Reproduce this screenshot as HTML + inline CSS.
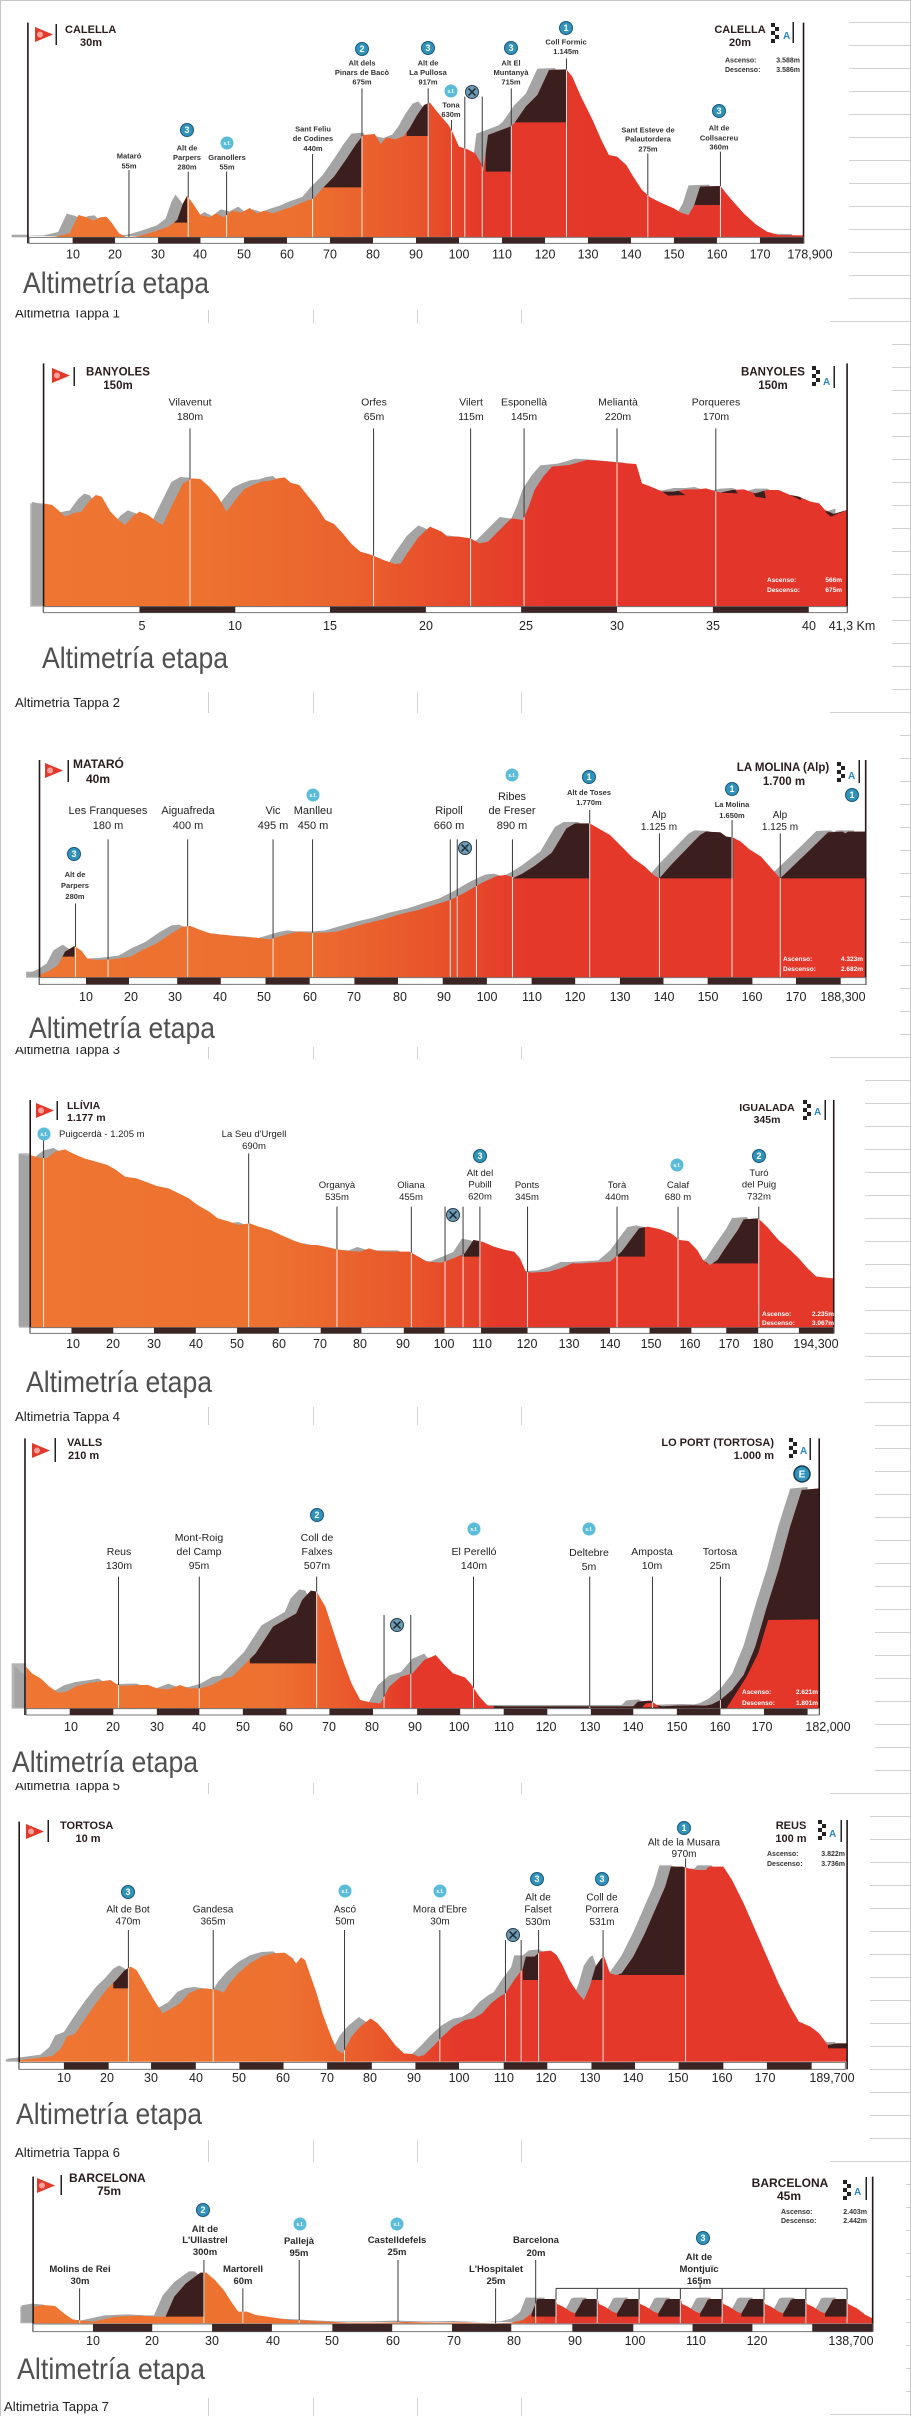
<!DOCTYPE html>
<html><head><meta charset="utf-8">
<style>
html,body{margin:0;padding:0;background:#fff}
svg{display:block}
text{font-family:"Liberation Sans",Arial,sans-serif}
.ln{stroke:#3a3a3a;stroke-width:1;fill:none;vector-effect:non-scaling-stroke}
.wl{stroke:#fff;stroke-width:1;fill:none;opacity:.85;vector-effect:non-scaling-stroke}
.ax{stroke:#241818;stroke-width:1.6;fill:none;vector-effect:non-scaling-stroke}
.bo{fill:#fff;stroke:#777;stroke-width:1;vector-effect:non-scaling-stroke}
.bd{fill:#3a2424}
.dk{fill:#3b1f1f}
.t{font-size:12.5px;fill:#222;text-anchor:middle}
.ae{font-size:30px;fill:#505050}
.cap{font-size:13px;fill:#222}
.w{font-size:6.5px;font-weight:bold;fill:#fff}
.h{font-weight:bold;fill:#2a1c1c}
.s{font-size:7.5px;font-weight:bold;fill:#333;text-anchor:middle}
</style></head><body>
<svg width="911" height="2416" viewBox="0 0 911 2416" xmlns="http://www.w3.org/2000/svg">
<defs>
<pattern id="hg" width="911" height="23" patternUnits="userSpaceOnUse"><path d="M0 22.5H911" stroke="#d2d2d2" stroke-width="1"/></pattern>
<linearGradient id="g1" gradientUnits="userSpaceOnUse" x1="0" y1="0" x2="1568" y2="0"><stop offset="0" stop-color="#ee7632"/><stop offset=".34" stop-color="#ec6f2f"/><stop offset=".46" stop-color="#e8552b"/><stop offset=".53" stop-color="#e4382a"/><stop offset="1" stop-color="#e4352a"/></linearGradient>
<linearGradient id="g2" gradientUnits="userSpaceOnUse" x1="0" y1="0" x2="1568" y2="0"><stop offset="0" stop-color="#ee7632"/><stop offset=".22" stop-color="#ed7230"/><stop offset=".38" stop-color="#ea632d"/><stop offset=".55" stop-color="#e5402a"/><stop offset=".6" stop-color="#e4352a"/></linearGradient>
<linearGradient id="g3" gradientUnits="userSpaceOnUse" x1="0" y1="0" x2="1568" y2="0"><stop offset="0" stop-color="#ee7632"/><stop offset=".33" stop-color="#ec6e2f"/><stop offset=".47" stop-color="#e8552b"/><stop offset=".58" stop-color="#e4382a"/></linearGradient>
<linearGradient id="g4" gradientUnits="userSpaceOnUse" x1="0" y1="0" x2="1568" y2="0"><stop offset="0" stop-color="#ee7632"/><stop offset=".3" stop-color="#ed7130"/><stop offset=".45" stop-color="#e8572b"/><stop offset=".55" stop-color="#e4382a"/></linearGradient>
<linearGradient id="g5" gradientUnits="userSpaceOnUse" x1="0" y1="0" x2="1568" y2="0"><stop offset="0" stop-color="#ee7632"/><stop offset=".3" stop-color="#ed7130"/><stop offset=".38" stop-color="#ea5a2c"/><stop offset=".45" stop-color="#e4382a"/></linearGradient>
<linearGradient id="g6" gradientUnits="userSpaceOnUse" x1="0" y1="0" x2="1568" y2="0"><stop offset="0" stop-color="#ee7632"/><stop offset=".32" stop-color="#ed7130"/><stop offset=".42" stop-color="#e9572b"/><stop offset=".5" stop-color="#e4382a"/></linearGradient>
<linearGradient id="g7" gradientUnits="userSpaceOnUse" x1="0" y1="0" x2="1568" y2="0"><stop offset="0" stop-color="#ee7632"/><stop offset=".55" stop-color="#ec6c2e"/><stop offset=".6" stop-color="#e4382a"/></linearGradient>

<polygon id="p1" points="50,712 95,710 120,700 135,645 150,652 160,662 172,652 183,650 192,668 205,700 218,712 240,708 265,695 290,680 305,660 315,610 322,588 332,610 345,645 360,652 372,640 385,652 400,632 415,638 430,624 442,640 455,632 470,640 485,630 500,622 520,607 540,595 555,565 575,530 595,480 612,435 625,405 645,402 655,432 665,412 680,418 695,408 705,385 718,345 730,315 740,308 750,330 762,355 772,375 780,400 790,440 805,448 818,460 828,490 832,512 840,405 860,392 878,380 885,370 905,320 925,285 945,210 975,208 985,230 1000,290 1020,360 1035,420 1048,465 1062,470 1078,495 1090,530 1105,570 1120,593 1140,610 1160,625 1172,638 1185,645 1195,615 1205,560 1240,558 1250,580 1262,605 1280,640 1300,672 1320,695 1340,705 1383,706 1383,712"/>
<polygon id="p2" points="75,830 75,520 90,525 100,540 112,560 125,550 140,545 155,510 165,495 175,500 190,545 205,572 215,585 228,560 240,545 255,555 270,575 280,585 295,530 315,460 330,445 345,447 360,470 375,500 390,545 405,510 420,478 435,465 450,455 465,452 478,445 490,442 500,458 515,465 530,498 545,530 560,570 575,582 590,610 605,642 620,665 640,675 660,690 680,702 690,700 700,672 720,622 740,590 760,605 770,620 790,620 810,625 825,640 840,635 860,600 880,565 900,570 910,530 920,480 935,440 950,410 980,405 1000,395 1010,390 1030,392 1050,395 1080,400 1095,402 1105,460 1120,470 1140,485 1160,485 1180,478 1200,478 1215,475 1240,488 1260,480 1280,478 1300,490 1320,480 1340,480 1360,495 1375,500 1395,515 1410,520 1420,540 1435,552 1458,540 1458,830"/>
<polygon id="p3" points="68,803 68,795 85,782 100,765 112,725 128,708 140,722 150,745 165,750 190,748 205,745 225,740 245,720 270,700 295,670 315,650 328,648 345,660 365,672 390,675 410,680 440,683 465,688 480,680 500,670 515,665 530,668 560,668 580,665 600,655 630,640 660,628 690,612 720,600 750,583 775,570 800,548 830,518 855,498 870,495 885,503 900,490 920,468 950,428 975,355 990,340 1015,340 1030,355 1050,375 1070,410 1090,445 1110,470 1125,495 1135,505 1155,465 1180,420 1205,375 1215,365 1240,367 1250,380 1262,383 1275,395 1290,418 1310,440 1325,470 1343,505 1370,460 1400,410 1425,367 1450,365 1455,370 1460,365 1490,365 1490,803"/>
<polygon id="p4" points="52,773 52,255 65,262 80,265 95,245 112,238 125,250 145,265 165,275 185,285 200,300 215,320 235,325 250,335 270,348 290,355 310,372 325,385 340,405 360,425 375,445 395,455 410,465 430,460 445,470 465,480 490,500 510,515 530,525 545,525 560,530 580,538 600,543 620,545 635,535 650,543 670,545 705,545 720,560 735,575 760,578 780,565 800,550 815,510 830,515 850,530 870,540 885,545 895,565 905,605 915,608 945,605 965,595 985,580 1000,580 1020,578 1050,575 1070,545 1085,510 1100,475 1115,470 1135,477 1155,490 1170,510 1185,513 1200,540 1210,570 1222,585 1235,570 1250,530 1270,480 1280,448 1305,445 1320,470 1340,510 1360,540 1375,565 1390,595 1405,620 1435,625 1435,773"/>
<polygon id="p5" points="45,866 45,740 55,760 70,775 85,800 100,818 115,815 130,800 150,790 170,785 190,780 205,797 220,797 240,795 255,795 270,805 290,808 310,795 325,805 345,805 365,795 385,775 400,770 420,735 440,700 455,660 470,620 490,600 510,580 520,540 535,512 545,515 560,560 575,640 590,720 605,790 620,840 640,848 655,850 670,800 690,770 710,760 730,720 750,705 765,735 780,760 800,772 810,790 825,830 840,858 870,859 1090,859 1098,845 1120,842 1130,855 1140,859 1165,857 1195,856 1215,857 1225,853 1240,840 1260,810 1280,765 1300,680 1320,560 1340,450 1360,320 1380,210 1410,205 1410,866"/>
<polygon id="p6" points="33,785 33,780 60,775 90,768 105,745 115,710 130,700 145,660 165,610 185,565 200,540 215,510 225,500 235,510 250,555 265,600 280,640 295,625 310,610 325,580 340,568 355,565 375,570 385,578 395,550 410,520 430,490 450,470 470,460 490,458 500,470 510,490 518,472 525,480 535,530 545,580 555,640 570,710 580,750 590,760 605,710 620,680 638,655 650,670 665,700 680,735 695,760 710,762 720,770 730,765 745,740 760,712 780,680 800,660 815,655 830,640 845,610 860,590 870,580 885,540 900,505 905,470 920,470 930,455 948,452 958,465 968,495 980,540 995,580 1005,600 1015,560 1025,500 1035,475 1040,470 1050,520 1060,525 1070,520 1090,470 1110,400 1130,320 1145,260 1155,200 1175,200 1185,205 1200,210 1215,210 1220,200 1245,200 1260,240 1280,310 1300,390 1320,470 1340,550 1360,620 1375,665 1395,680 1410,700 1425,735 1440,730 1458,730 1458,785"/>
<polygon id="p7" points="57,520 57,470 75,465 95,468 110,490 125,508 140,512 160,515 200,500 240,497 270,500 285,500 300,440 320,400 345,368 355,368 370,390 385,420 400,460 410,485 425,485 440,495 460,500 480,505 500,510 530,512 560,515 600,518 650,518 700,516 750,518 800,517 850,520 880,518 900,510 915,490 925,447 957,447 959,462 969,470 982,485 990,490 997,470 1003,450 1007,447 1029,447 1031,462 1041,470 1054,485 1062,490 1069,470 1075,450 1079,447 1100,447 1102,462 1112,470 1125,485 1133,490 1140,470 1146,450 1150,447 1172,447 1174,462 1184,470 1197,485 1205,490 1212,470 1218,450 1222,447 1243,447 1245,462 1255,470 1268,485 1276,490 1283,470 1289,450 1293,447 1315,447 1317,462 1327,470 1340,485 1348,490 1355,470 1361,450 1365,447 1387,447 1389,462 1399,470 1412,485 1420,490 1427,470 1433,450 1437,447 1458,447 1460,462 1475,475 1490,495 1502,505 1502,520"/>
<clipPath id="c1"><use href="#p1"/></clipPath>
<clipPath id="c2"><use href="#p2"/></clipPath>
<clipPath id="c3"><use href="#p3"/></clipPath>
<clipPath id="c4"><use href="#p4"/></clipPath>
<clipPath id="c5"><use href="#p5"/></clipPath>
<clipPath id="c6"><use href="#p6"/></clipPath>
<clipPath id="c7"><use href="#p7"/></clipPath>

<g id="sf"><circle r="6.5" fill="#5bbcd9"/><text y="1.8" font-size="5" font-weight="bold" fill="#fff" text-anchor="middle">s.f.</text></g>
<g id="tl"><circle r="6.5" fill="#6b9bb5" stroke="#2a3a44" stroke-width="1"/><path d="M-3.5 -3.5L3.5 3.5M3.5 -3.5L-3.5 3.5" stroke="#1d2a33" stroke-width="1.5"/></g>
<g id="k1"><circle r="6.5" fill="#2f93bc" stroke="#1b5676" stroke-width="1"/><text y="3.2" font-size="9" font-weight="bold" fill="#fff" text-anchor="middle">1</text></g>
<g id="k2"><circle r="6.5" fill="#2f93bc" stroke="#1b5676" stroke-width="1"/><text y="3.2" font-size="9" font-weight="bold" fill="#fff" text-anchor="middle">2</text></g>
<g id="k3"><circle r="6.5" fill="#2f93bc" stroke="#1b5676" stroke-width="1"/><text y="3.2" font-size="9" font-weight="bold" fill="#fff" text-anchor="middle">3</text></g>
<g id="kE"><circle r="8" fill="#2f93bc" stroke="#1b3a4e" stroke-width="1.5"/><text y="3.5" font-size="10" font-weight="bold" fill="#fff" text-anchor="middle">E</text></g>
<g id="fl"><polygon points="0,0 18,7.5 0,15" fill="#e2392b"/><circle cx="5" cy="7.5" r="3" fill="#f6a29a"/></g>
<g id="ck"><rect x="0" y="0" width="4" height="4" fill="#222"/><rect x="4" y="4" width="4" height="4" fill="#222"/><rect x="0" y="8" width="4" height="4" fill="#222"/><rect x="4" y="12" width="4" height="4" fill="#222"/><rect x="0" y="16" width="4" height="4" fill="#222"/></g>
</defs>

<rect x="0" y="0" width="911" height="2416" fill="#fff"/>
<rect x="830" y="0" width="81" height="2416" fill="url(#hg)"/>
<path d="M208.5 0V2416M313.5 0V2416M417.5 0V2416M521.5 0V2416" stroke="#d2d2d2" stroke-width="1"/>
<path d="M0.5 0V2416M0 0.5H911M910.5 0V2416" stroke="#c6c6c6" stroke-width="1"/>

<g class="cap">
<text x="15" y="317.5" class="cap" textLength="105" lengthAdjust="spacingAndGlyphs">Altimetria Tappa 1</text>
<text x="15" y="707" class="cap" textLength="105" lengthAdjust="spacingAndGlyphs">Altimetria Tappa 2</text>
<text x="15" y="1054" class="cap" textLength="105" lengthAdjust="spacingAndGlyphs">Altimetria Tappa 3</text>
<text x="15" y="1421" class="cap" textLength="105" lengthAdjust="spacingAndGlyphs">Altimetria Tappa 4</text>
<text x="15" y="1790" class="cap" textLength="105" lengthAdjust="spacingAndGlyphs">Altimetria Tappa 5</text>
<text x="15" y="2157" class="cap" textLength="105" lengthAdjust="spacingAndGlyphs">Altimetria Tappa 6</text>
<text x="4" y="2411" class="cap" textLength="105" lengthAdjust="spacingAndGlyphs">Altimetria Tappa 7</text>
</g>

<rect x="1" y="1" width="848" height="309" fill="#fff"/>
<rect x="1" y="323" width="891" height="369" fill="#fff"/>
<rect x="1" y="713" width="899" height="334" fill="#fff"/>
<rect x="1" y="1059" width="864" height="348" fill="#fff"/>
<rect x="1" y="1425" width="874" height="358" fill="#fff"/>
<rect x="1" y="1794" width="869" height="346" fill="#fff"/>
<rect x="1" y="2162" width="905" height="236" fill="#fff"/>

<!-- PANEL 1 -->
<g transform="translate(0,0) scale(0.581,0.33333)">
<rect x="20" y="704" width="30" height="8" fill="#aaa"/>
<use href="#p1" fill="#a4a4a4" transform="translate(-20,-4)"/>
<path class="ln" d="M222 510V712M324 515V712M390 515V712M538 462V712M623 265V712M737 265V712M777 360V712M800 290V712M830 290V712M880 265V712M975 175V712M1115 460V712M1240 455V712"/>
<use href="#p1" fill="url(#g1)"/>
<g clip-path="url(#c1)"><path class="dk" d="M300 0H322V668H300ZM555 0H622V562H555ZM700 0H738V408H700ZM836 0H880V515H836ZM880 0H976V367H880ZM1172 0H1240V615H1172Z"/><path class="wl" d="M222 510V712M324 515V712M390 515V712M538 462V712M623 265V712M737 265V712M777 360V712M800 290V712M830 290V712M880 265V712M975 175V712M1115 460V712M1240 455V712"/></g>
<path class="ax" d="M48 68V730M1383 68V730"/>
<rect class="bo" x="50" y="712" width="1333" height="18"/>
<path class="bd" d="M125 712H198V730H125ZM272 712H345V730H272ZM420 712H494V730H420ZM568 712H642V730H568ZM716 712H790V730H716ZM864 712H938V730H864ZM1012 712H1086V730H1012ZM1160 712H1234V730H1160ZM1308 712H1383V730H1308Z"/>
</g>
<use href="#fl" x="35" y="27"/><rect x="55.5" y="24" width="1.5" height="21" fill="#222"/>
<text x="65" y="33" font-size="11" class="h">CALELLA</text>
<text x="91" y="46" font-size="11" class="h" text-anchor="middle">30m</text>
<text x="740" y="33" font-size="11" class="h" text-anchor="middle">CALELLA</text>
<text x="740" y="46" font-size="11" class="h" text-anchor="middle">20m</text>
<use href="#ck" x="771" y="23"/><text x="783" y="39" font-size="10" font-weight="bold" fill="#2a86c8">A</text><rect x="792.5" y="22" width="1.5" height="21" fill="#222"/>
<text x="725" y="62.5" font-size="7" font-weight="bold" fill="#333">Ascenso:</text><text x="800" y="62.5" font-size="7" font-weight="bold" fill="#333" text-anchor="end">3.588m</text>
<text x="725" y="72" font-size="7" font-weight="bold" fill="#333">Descenso:</text><text x="800" y="72" font-size="7" font-weight="bold" fill="#333" text-anchor="end">3.586m</text>
<g>
<text class="s" x="129" y="158.5">Mataró</text><text class="s" x="129" y="168.5">55m</text>
<text class="s" x="187" y="150.5">Alt de</text><text class="s" x="187" y="160">Parpers</text><text class="s" x="187" y="169.5">280m</text>
<text class="s" x="227" y="160">Granollers</text><text class="s" x="227" y="169.5">55m</text>
<text class="s" x="313" y="131.5">Sant Feliu</text><text class="s" x="313" y="141">de Codines</text><text class="s" x="313" y="151">440m</text>
<text class="s" x="362" y="65.5">Alt dels</text><text class="s" x="362" y="75">Pinars de Bacò</text><text class="s" x="362" y="84.5">675m</text>
<text class="s" x="428" y="65.5">Alt de</text><text class="s" x="428" y="75">La Pullosa</text><text class="s" x="428" y="84.5">917m</text>
<text class="s" x="451" y="107.5">Tona</text><text class="s" x="451" y="117">630m</text>
<text class="s" x="511" y="65.5">Alt El</text><text class="s" x="511" y="75">Muntanyà</text><text class="s" x="511" y="84.5">715m</text>
<text class="s" x="566" y="44.5">Coll Formic</text><text class="s" x="566" y="54">1.145m</text>
<text class="s" x="648" y="132.5">Sant Esteve de</text><text class="s" x="648" y="141.5">Palautordera</text><text class="s" x="648" y="151.5">275m</text>
<text class="s" x="719" y="130.5">Alt de</text><text class="s" x="719" y="140.5">Collsacreu</text><text class="s" x="719" y="149.5">360m</text>
</g>
<use href="#k3" x="187" y="130"/><use href="#sf" x="227" y="143"/><use href="#k2" x="362" y="49"/><use href="#k3" x="428" y="48"/><use href="#sf" x="451" y="91"/><use href="#tl" x="472" y="92"/><use href="#k3" x="511" y="48"/><use href="#k1" x="566" y="28"/><use href="#k3" x="719" y="111"/>
<g>
<text class="t" x="73" y="258.5">10</text><text class="t" x="115" y="258.5">20</text><text class="t" x="158" y="258.5">30</text><text class="t" x="200" y="258.5">40</text><text class="t" x="244" y="258.5">50</text><text class="t" x="287" y="258.5">60</text><text class="t" x="330" y="258.5">70</text><text class="t" x="373" y="258.5">80</text><text class="t" x="416" y="258.5">90</text><text class="t" x="459" y="258.5">100</text><text class="t" x="502" y="258.5">110</text><text class="t" x="545" y="258.5">120</text><text class="t" x="588" y="258.5">130</text><text class="t" x="631" y="258.5">140</text><text class="t" x="674" y="258.5">150</text><text class="t" x="717" y="258.5">160</text><text class="t" x="760" y="258.5">170</text><text class="t" x="810" y="258.5">178,900</text>
</g>
<text class="ae" x="23" y="293" textLength="186" lengthAdjust="spacingAndGlyphs">Altimetría etapa</text>

<!-- PANEL 2 -->
<g transform="translate(0,330) scale(0.581,0.33333)">
<rect x="52" y="520" width="23" height="310" fill="#b4b4b4"/>
<use href="#p2" fill="#a4a4a4" transform="translate(-20,-4)"/>
<path class="ln" d="M327 295V830M643 295V830M810 295V830M902 295V830M1062 295V830M1232 295V830"/>
<use href="#p2" fill="url(#g2)"/>
<g clip-path="url(#c2)"><path class="dk" d="M1140 485L1165 480L1180 495L1150 497ZM1240 488L1262 472L1270 490ZM1295 482L1315 478L1318 505L1300 500ZM1360 495L1380 497L1378 510ZM1420 545L1440 538L1458 540L1430 560Z"/><path class="wl" d="M327 295V830M643 295V830M810 295V830M902 295V830M1062 295V830M1232 295V830"/></g>
<path class="ax" d="M75 100V848M1458 100V848"/>
<rect class="bo" x="75" y="830" width="1383" height="18"/>
<path class="bd" d="M240 830H405V848H240ZM568 830H733V848H568ZM897 830H1062V848H897ZM1227 830H1392V848H1227Z"/>
</g>
<use href="#fl" x="52" y="368"/><rect x="73.5" y="367" width="1.5" height="19" fill="#222"/>
<text x="86" y="375.5" font-size="11.5" class="h">BANYOLES</text>
<text x="118" y="389" font-size="11.5" class="h" text-anchor="middle">150m</text>
<text x="773" y="375.5" font-size="11.5" class="h" text-anchor="middle">BANYOLES</text>
<text x="773" y="389" font-size="11.5" class="h" text-anchor="middle">150m</text>
<use href="#ck" x="812" y="366"/><text x="823" y="385" font-size="10" font-weight="bold" fill="#2a86c8">A</text><rect x="833.5" y="366" width="1.5" height="22" fill="#222"/>
<g font-size="10.5" fill="#222" text-anchor="middle">
<text x="190" y="405.5">Vilavenut</text><text x="190" y="420">180m</text>
<text x="374" y="405.5">Orfes</text><text x="374" y="420">65m</text>
<text x="471" y="405.5">Vilert</text><text x="471" y="420">115m</text>
<text x="524" y="405.5">Esponellà</text><text x="524" y="420">145m</text>
<text x="618" y="405.5">Meliantà</text><text x="618" y="420">220m</text>
<text x="716" y="405.5">Porqueres</text><text x="716" y="420">170m</text>
</g>
<text class="w" x="767" y="582">Ascenso:</text><text class="w" x="842" y="582" text-anchor="end">566m</text>
<text class="w" x="767" y="592">Descenso:</text><text class="w" x="842" y="592" text-anchor="end">675m</text>
<g>
<text class="t" x="142" y="630">5</text><text class="t" x="235" y="630">10</text><text class="t" x="330" y="630">15</text><text class="t" x="426" y="630">20</text><text class="t" x="526" y="630">25</text><text class="t" x="617" y="630">30</text><text class="t" x="713" y="630">35</text><text class="t" x="809" y="630">40</text><text class="t" x="852" y="630">41,3 Km</text>
</g>
<text class="ae" x="42" y="668" textLength="186" lengthAdjust="spacingAndGlyphs">Altimetría etapa</text>

<!-- PANEL 3 -->
<g transform="translate(0,710) scale(0.581,0.33333)">
<rect x="45" y="785" width="23" height="18" fill="#aaa"/>
<use href="#p3" fill="#a4a4a4" transform="translate(-20,-4)"/>
<path class="ln" d="M130 580V803M186 388V803M323 388V803M470 388V803M538 388V803M775 388V803M787 388V803M820 388V803M882 388V803M1015 300V803M1135 370V803M1260 330V803M1343 370V803"/>
<use href="#p3" fill="url(#g3)"/>
<g clip-path="url(#c3)"><path class="dk" d="M100 0H128V740H100ZM885 0H1015V505H885ZM1135 0H1262V505H1135ZM1343 0H1490V505H1343Z"/><path class="wl" d="M130 580V803M186 388V803M323 388V803M470 388V803M538 388V803M775 388V803M787 388V803M820 388V803M882 388V803M1015 300V803M1135 370V803M1260 330V803M1343 370V803"/></g>
<path class="ax" d="M68 150V825M1490 150V825"/>
<rect class="bo" x="68" y="803" width="1422" height="20"/>
<path class="bd" d="M148 803H222V823H148ZM305 803H380V823H305ZM457 803H533V823H457ZM610 803H685V823H610ZM762 803H838V823H762ZM915 803H990V823H915ZM1067 803H1142V823H1067ZM1218 803H1295V823H1218ZM1370 803H1447V823H1370Z"/>
</g>
<use href="#fl" x="45" y="763"/><rect x="67.5" y="760" width="1.5" height="22" fill="#222"/>
<text x="73" y="768" font-size="12" class="h">MATARÓ</text>
<text x="98" y="783" font-size="12" class="h" text-anchor="middle">40m</text>
<text x="783" y="771" font-size="11.5" class="h" text-anchor="middle">LA MOLINA (Alp)</text>
<text x="784" y="785" font-size="11.5" class="h" text-anchor="middle">1.700 m</text>
<use href="#ck" x="837" y="762"/><text x="848" y="779" font-size="10" font-weight="bold" fill="#2a86c8">A</text><rect x="858.5" y="760" width="1.5" height="23" fill="#222"/>
<g font-size="11" fill="#222" text-anchor="middle">
<text x="108" y="814">Les Franqueses</text><text x="108" y="829">180 m</text>
<text x="188" y="814">Aiguafreda</text><text x="188" y="829">400 m</text>
<text x="273" y="814">Vic</text><text x="273" y="829">495 m</text>
<text x="313" y="814">Manlleu</text><text x="313" y="829">450 m</text>
<text x="449" y="814">Ripoll</text><text x="449" y="829">660 m</text>
<text x="512" y="800">Ribes</text><text x="512" y="814">de Freser</text><text x="512" y="829">890 m</text>
</g>
<g font-size="10" fill="#222" text-anchor="middle">
<text x="659" y="818">Alp</text><text x="659" y="830">1.125 m</text>
<text x="780" y="818">Alp</text><text x="780" y="830">1.125 m</text>
</g>
<text class="s" x="589" y="795">Alt de Toses</text><text class="s" x="589" y="805">1.770m</text>
<text class="s" x="732" y="807">La Molina</text><text class="s" x="732" y="818">1.650m</text>
<text class="s" x="75" y="877">Alt de</text><text class="s" x="75" y="888">Parpers</text><text class="s" x="75" y="899">280m</text>
<use href="#k3" x="74" y="854"/><use href="#sf" x="313" y="795"/><use href="#tl" x="465" y="848"/><use href="#sf" x="512" y="775"/><use href="#k1" x="589" y="777"/><use href="#k1" x="732" y="789"/><use href="#k1" x="852" y="795"/>
<text class="w" x="783" y="961">Ascenso:</text><text class="w" x="863" y="961" text-anchor="end">4.323m</text>
<text class="w" x="783" y="971">Descenso:</text><text class="w" x="863" y="971" text-anchor="end">2.682m</text>
<g>
<text class="t" x="86" y="1001">10</text><text class="t" x="131" y="1001">20</text><text class="t" x="175" y="1001">30</text><text class="t" x="220" y="1001">40</text><text class="t" x="264" y="1001">50</text><text class="t" x="310" y="1001">60</text><text class="t" x="354" y="1001">70</text><text class="t" x="400" y="1001">80</text><text class="t" x="444" y="1001">90</text><text class="t" x="487" y="1001">100</text><text class="t" x="532" y="1001">110</text><text class="t" x="575" y="1001">120</text><text class="t" x="620" y="1001">130</text><text class="t" x="664" y="1001">140</text><text class="t" x="708" y="1001">150</text><text class="t" x="752" y="1001">160</text><text class="t" x="796" y="1001">170</text><text class="t" x="843" y="1001">188,300</text>
</g>
<text class="ae" x="29" y="1038" textLength="186" lengthAdjust="spacingAndGlyphs">Altimetría etapa</text>

<!-- PANEL 4 -->
<g transform="translate(0,1070) scale(0.581,0.33333)">
<rect x="33" y="250" width="19" height="523" fill="#b4b4b4"/>
<use href="#p4" fill="#a4a4a4" transform="translate(-20,-4)"/>
<path class="ln" d="M75 210V773M428 250V773M580 410V773M708 410V773M766 410V773M797 410V773M826 410V773M908 410V773M1062 410V773M1167 410V773M1306 410V773"/>
<use href="#p4" fill="url(#g4)"/>
<g clip-path="url(#c4)"><path class="dk" d="M795 0H826V560H795ZM1058 0H1110V560H1058ZM1215 0H1305V580H1215Z"/><path class="wl" d="M75 210V773M428 250V773M580 410V773M708 410V773M766 410V773M797 410V773M826 410V773M908 410V773M1062 410V773M1167 410V773M1306 410V773"/></g>
<path class="ax" d="M52 90V790M1435 90V790"/>
<rect class="bo" x="52" y="773" width="1383" height="17"/>
<path class="bd" d="M123 773H195V790H123ZM265 773H337V790H265ZM408 773H480V790H408ZM552 773H622V790H552ZM695 773H765V790H695ZM828 773H908V790H828ZM980 773H1050V790H980ZM1118 773H1190V790H1118ZM1250 773H1305V790H1250ZM1375 773H1435V790H1375Z"/>
</g>
<use href="#fl" x="36" y="1103"/><rect x="56.5" y="1101" width="1.5" height="19" fill="#222"/>
<text x="67" y="1109" font-size="10.5" class="h">LLÍVIA</text>
<text x="67" y="1121" font-size="10.5" class="h">1.177 m</text>
<text x="767" y="1111" font-size="10.5" class="h" text-anchor="middle">IGUALADA</text>
<text x="767" y="1123" font-size="10.5" class="h" text-anchor="middle">345m</text>
<use href="#ck" x="803" y="1100"/><text x="814" y="1115" font-size="10" font-weight="bold" fill="#2a86c8">A</text><rect x="824.5" y="1100" width="1.5" height="20" fill="#222"/>
<text x="59" y="1137" font-size="9.5" fill="#222">Puigcerdà - 1.205 m</text>
<g font-size="9.5" fill="#222" text-anchor="middle">
<text x="254" y="1137">La Seu d'Urgell</text><text x="254" y="1149">690m</text>
<text x="337" y="1188">Organyà</text><text x="337" y="1200">535m</text>
<text x="411" y="1188">Oliana</text><text x="411" y="1200">455m</text>
<text x="480" y="1176">Alt del</text><text x="480" y="1187.5">Pubill</text><text x="480" y="1199.5">620m</text>
<text x="527" y="1188">Ponts</text><text x="527" y="1200">345m</text>
<text x="617" y="1188">Torà</text><text x="617" y="1200">440m</text>
<text x="678" y="1188">Calaf</text><text x="678" y="1200">680 m</text>
<text x="759" y="1176">Turó</text><text x="759" y="1187.5">del Puig</text><text x="759" y="1199.5">732m</text>
</g>
<use href="#sf" x="44" y="1134"/><use href="#tl" x="453" y="1215"/><use href="#k3" x="480" y="1156"/><use href="#sf" x="677" y="1165"/><use href="#k2" x="759" y="1156"/>
<text class="w" x="762" y="1316">Ascenso:</text><text class="w" x="834" y="1316" text-anchor="end">2.235m</text>
<text class="w" x="762" y="1325">Descenso:</text><text class="w" x="834" y="1325" text-anchor="end">3.067m</text>
<g>
<text class="t" x="73" y="1348">10</text><text class="t" x="113" y="1348">20</text><text class="t" x="154" y="1348">30</text><text class="t" x="196" y="1348">40</text><text class="t" x="237" y="1348">50</text><text class="t" x="279" y="1348">60</text><text class="t" x="320" y="1348">70</text><text class="t" x="360" y="1348">80</text><text class="t" x="403" y="1348">90</text><text class="t" x="444" y="1348">100</text><text class="t" x="482" y="1348">110</text><text class="t" x="527" y="1348">120</text><text class="t" x="569" y="1348">130</text><text class="t" x="610" y="1348">140</text><text class="t" x="651" y="1348">150</text><text class="t" x="690" y="1348">160</text><text class="t" x="729" y="1348">170</text><text class="t" x="763" y="1348">180</text><text class="t" x="816" y="1348">194,300</text>
</g>
<text class="ae" x="26" y="1392" textLength="186" lengthAdjust="spacingAndGlyphs">Altimetría etapa</text>

<!-- PANEL 5 -->
<g transform="translate(0,1420) scale(0.581,0.33333)">
<rect x="20" y="730" width="25" height="136" fill="#b4b4b4"/>
<use href="#p5" fill="#a4a4a4" transform="translate(-20,-4)"/>
<path class="ln" d="M204 470V865M343 470V865M545 470V865M661 585V865M707 585V865M815 470V865M1015 470V865M1123 470V865M1240 470V865"/>
<use href="#p5" fill="url(#g5)"/>
<g clip-path="url(#c5)"><path class="dk" d="M430 0H545V730H430ZM850 0H1410V866H850Z"/><path fill="#e4372a" d="M1250 866L1265 825L1285 770L1305 700L1322 600L1410 598L1410 866ZM1105 862L1112 850L1125 848L1135 862Z"/><path class="wl" d="M204 470V865M343 470V865M545 470V865M661 585V865M707 585V865M815 470V865M1015 470V865M1123 470V865M1240 470V865"/></g>
<path class="ax" d="M43 55V885M1410 55V885"/>
<rect class="bo" x="45" y="866" width="1365" height="19"/>
<path class="bd" d="M120 866H195V885H120ZM270 866H343V885H270ZM418 866H493V885H418ZM567 866H642V885H567ZM718 866H792V885H718ZM867 866H942V885H867ZM1017 866H1090V885H1017ZM1165 866H1240V885H1165ZM1315 866H1390V885H1315Z"/>
</g>
<use href="#fl" x="32" y="1443"/><rect x="54.5" y="1438" width="1.5" height="24" fill="#222"/>
<text x="67" y="1446" font-size="11" class="h">VALLS</text>
<text x="68" y="1459" font-size="11" class="h">210 m</text>
<text x="774" y="1446" font-size="11" class="h" text-anchor="end">LO PORT (TORTOSA)</text>
<text x="774" y="1459" font-size="11" class="h" text-anchor="end">1.000 m</text>
<use href="#ck" x="789" y="1438"/><text x="800" y="1454" font-size="10" font-weight="bold" fill="#2a86c8">A</text><rect x="809.5" y="1438" width="1.5" height="22" fill="#222"/>
<use href="#kE" x="802" y="1474"/>
<g font-size="10.5" fill="#222" text-anchor="middle">
<text x="119" y="1555">Reus</text><text x="119" y="1569">130m</text>
<text x="199" y="1541">Mont-Roig</text><text x="199" y="1555">del Camp</text><text x="199" y="1569">95m</text>
<text x="317" y="1541">Coll de</text><text x="317" y="1555">Falxes</text><text x="317" y="1569">507m</text>
<text x="474" y="1555">El Perelló</text><text x="474" y="1569">140m</text>
<text x="589" y="1556">Deltebre</text><text x="589" y="1570">5m</text>
<text x="652" y="1555">Amposta</text><text x="652" y="1569">10m</text>
<text x="720" y="1555">Tortosa</text><text x="720" y="1569">25m</text>
</g>
<use href="#k2" x="317" y="1515"/><use href="#tl" x="397" y="1625"/><use href="#sf" x="474" y="1529"/><use href="#sf" x="589" y="1529"/>
<text class="w" x="742" y="1694">Ascenso:</text><text class="w" x="818" y="1694" text-anchor="end">2.621m</text>
<text class="w" x="742" y="1705">Descenso:</text><text class="w" x="818" y="1705" text-anchor="end">1.801m</text>
<g>
<text class="t" x="71" y="1731">10</text><text class="t" x="113" y="1731">20</text><text class="t" x="157" y="1731">30</text><text class="t" x="199" y="1731">40</text><text class="t" x="243" y="1731">50</text><text class="t" x="286" y="1731">60</text><text class="t" x="329" y="1731">70</text><text class="t" x="372" y="1731">80</text><text class="t" x="415" y="1731">90</text><text class="t" x="459" y="1731">100</text><text class="t" x="504" y="1731">110</text><text class="t" x="546" y="1731">120</text><text class="t" x="590" y="1731">130</text><text class="t" x="633" y="1731">140</text><text class="t" x="677" y="1731">150</text><text class="t" x="720" y="1731">160</text><text class="t" x="762" y="1731">170</text><text class="t" x="828" y="1731">182,000</text>
</g>
<text class="ae" x="12" y="1772" textLength="186" lengthAdjust="spacingAndGlyphs">Altimetría etapa</text>

<!-- PANEL 6 -->
<g transform="translate(0,1800) scale(0.581,0.33333)">
<rect x="10" y="778" width="23" height="7" fill="#aaa"/>
<use href="#p6" fill="#a4a4a4" transform="translate(-20,-4)"/>
<path class="ln" d="M221 390V785M367 390V785M593 390V785M757 390V785M870 420V785M897 420V785M927 390V785M1038 390V785M1180 175V785"/>
<use href="#p6" fill="url(#g6)"/>
<g clip-path="url(#c6)"><path class="dk" d="M195 0H222V565H195ZM900 0H926V540H900ZM1000 0H1038V540H1000ZM1065 0H1178V525H1065ZM1425 0H1458V745H1425Z"/><path class="wl" d="M221 390V785M367 390V785M593 390V785M757 390V785M870 420V785M897 420V785M927 390V785M1038 390V785M1180 175V785"/></g>
<path class="ax" d="M33 65V808M1458 60V808"/>
<rect class="bo" x="33" y="787" width="1422" height="21"/>
<path class="bd" d="M110 787H187V808H110ZM260 787H337V808H260ZM412 787H488V808H412ZM563 787H640V808H563ZM715 787H790V808H715ZM867 787H942V808H867ZM1018 787H1093V808H1018ZM1168 787H1245V808H1168ZM1320 787H1397V808H1320Z"/>
</g>
<use href="#fl" x="26" y="1824"/><rect x="47.5" y="1820" width="1.5" height="22" fill="#222"/>
<text x="60" y="1829" font-size="11" class="h">TORTOSA</text>
<text x="88" y="1842" font-size="11" class="h" text-anchor="middle">10 m</text>
<text x="791" y="1829" font-size="11" class="h" text-anchor="middle">REUS</text>
<text x="791" y="1842" font-size="11" class="h" text-anchor="middle">100 m</text>
<use href="#ck" x="818" y="1820"/><text x="829" y="1837" font-size="10" font-weight="bold" fill="#2a86c8">A</text><rect x="840.5" y="1820" width="1.5" height="22" fill="#222"/>
<text x="767" y="1856" font-size="7" font-weight="bold" fill="#333">Ascenso:</text><text x="845" y="1856" font-size="7" font-weight="bold" fill="#333" text-anchor="end">3.822m</text>
<text x="767" y="1866" font-size="7" font-weight="bold" fill="#333">Descenso:</text><text x="845" y="1866" font-size="7" font-weight="bold" fill="#333" text-anchor="end">3.736m</text>
<g font-size="10" fill="#222" text-anchor="middle">
<text x="684" y="1845.5">Alt de la Musara</text><text x="684" y="1857">970m</text>
<text x="128" y="1912.5">Alt de Bot</text><text x="128" y="1924.5">470m</text>
<text x="213" y="1912.5">Gandesa</text><text x="213" y="1924.5">365m</text>
<text x="345" y="1912.5">Ascó</text><text x="345" y="1924.5">50m</text>
<text x="440" y="1912.5">Mora d'Ebre</text><text x="440" y="1924.5">30m</text>
<text x="538" y="1900.5">Alt de</text><text x="538" y="1912.5">Falset</text><text x="538" y="1925">530m</text>
<text x="602" y="1900.5">Coll de</text><text x="602" y="1912.5">Porrera</text><text x="602" y="1925">531m</text>
</g>
<use href="#k1" x="684" y="1828"/><use href="#k3" x="128" y="1892"/><use href="#sf" x="345" y="1891"/><use href="#sf" x="440" y="1891"/><use href="#k3" x="537" y="1879"/><use href="#tl" x="513" y="1935"/><use href="#k3" x="602" y="1879"/>
<g>
<text class="t" x="64" y="2082">10</text><text class="t" x="107" y="2082">20</text><text class="t" x="151" y="2082">30</text><text class="t" x="196" y="2082">40</text><text class="t" x="239" y="2082">50</text><text class="t" x="283" y="2082">60</text><text class="t" x="327" y="2082">70</text><text class="t" x="370" y="2082">80</text><text class="t" x="414" y="2082">90</text><text class="t" x="459" y="2082">100</text><text class="t" x="504" y="2082">110</text><text class="t" x="546" y="2082">120</text><text class="t" x="590" y="2082">130</text><text class="t" x="633" y="2082">140</text><text class="t" x="678" y="2082">150</text><text class="t" x="722" y="2082">160</text><text class="t" x="765" y="2082">170</text><text class="t" x="832" y="2082">189,700</text>
</g>
<text class="ae" x="16" y="2124" textLength="186" lengthAdjust="spacingAndGlyphs">Altimetría etapa</text>

<!-- PANEL 7 -->
<g transform="translate(0,2150) scale(0.581,0.33333)">
<rect x="35" y="470" width="22" height="50" fill="#b4b4b4"/>
<use href="#p7" fill="#a4a4a4" transform="translate(-20,-4)"/>
<path class="ln" d="M137 415V520M351 330V520M418 415V520M515 330V520M685 330V520M853 415V520M922 330V520M1205 400V415M957 415H1458M957 415V520M1028 415V520M1100 415V520M1171 415V520M1243 415V520M1315 415V520M1387 415V520M1458 415V520"/>
<use href="#p7" fill="url(#g7)"/>
<g clip-path="url(#c7)"><path class="dk" d="M285 0H352V500H285ZM915 0H957V500H915ZM990 0H1029V500H990ZM1062 0H1100V500H1062ZM1133 0H1172V500H1133ZM1205 0H1243V500H1205ZM1276 0H1315V500H1276ZM1348 0H1387V500H1348ZM1420 0H1458V500H1420Z"/><path class="wl" d="M137 415V520M351 330V520M418 415V520M515 330V520M685 330V520M853 415V520M922 330V520M957 415V520M1028 415V520M1100 415V520M1171 415V520M1243 415V520M1315 415V520M1387 415V520M1458 415V520"/></g>
<path class="ax" d="M57 80V545M1502 80V545"/>
<rect class="bo" x="57" y="522" width="1445" height="23"/>
<path class="bd" d="M160 522H262V545H160ZM365 522H468V545H365ZM572 522H675V545H572ZM778 522H880V545H778ZM985 522H1090V545H985ZM1192 522H1295V545H1192ZM1398 522H1502V545H1398Z"/>
</g>
<use href="#fl" x="37" y="2178"/><rect x="60.5" y="2175" width="1.5" height="20" fill="#222"/>
<text x="69" y="2182" font-size="12" class="h">BARCELONA</text>
<text x="109" y="2195" font-size="12" class="h" text-anchor="middle">75m</text>
<text x="790" y="2187" font-size="12" class="h" text-anchor="middle">BARCELONA</text>
<text x="789" y="2200" font-size="12" class="h" text-anchor="middle">45m</text>
<use href="#ck" x="843" y="2180"/><text x="854" y="2195" font-size="10" font-weight="bold" fill="#2a86c8">A</text><rect x="865.5" y="2177" width="1.5" height="23" fill="#222"/>
<text x="781" y="2214" font-size="7" font-weight="bold" fill="#333">Ascenso:</text><text x="867" y="2214" font-size="7" font-weight="bold" fill="#333" text-anchor="end">2.403m</text>
<text x="781" y="2223" font-size="7" font-weight="bold" fill="#333">Descenso:</text><text x="867" y="2223" font-size="7" font-weight="bold" fill="#333" text-anchor="end">2.442m</text>
<g font-size="9.5" font-weight="bold" fill="#2a2a2a" text-anchor="middle">
<text x="80" y="2272">Molins de Rei</text><text x="80" y="2284">30m</text>
<text x="205" y="2232">Alt de</text><text x="205" y="2243">L'Ullastrel</text><text x="205" y="2255">300m</text>
<text x="243" y="2272">Martorell</text><text x="243" y="2284">60m</text>
<text x="299" y="2244">Pallejà</text><text x="299" y="2256">95m</text>
<text x="397" y="2243">Castelldefels</text><text x="397" y="2255">25m</text>
<text x="536" y="2243">Barcelona</text><text x="536" y="2256">20m</text>
<text x="496" y="2272">L'Hospitalet</text><text x="496" y="2284">25m</text>
<text x="699" y="2260">Alt de</text><text x="699" y="2272">Montjuïc</text><text x="699" y="2284">165m</text>
</g>
<use href="#k2" x="203" y="2210"/><use href="#sf" x="300" y="2224"/><use href="#sf" x="397" y="2224"/><use href="#k3" x="703" y="2238"/>
<g>
<text class="t" x="93" y="2345">10</text><text class="t" x="152" y="2345">20</text><text class="t" x="212" y="2345">30</text><text class="t" x="273" y="2345">40</text><text class="t" x="332" y="2345">50</text><text class="t" x="393" y="2345">60</text><text class="t" x="454" y="2345">70</text><text class="t" x="514" y="2345">80</text><text class="t" x="575" y="2345">90</text><text class="t" x="635" y="2345">100</text><text class="t" x="696" y="2345">110</text><text class="t" x="757" y="2345">120</text><text class="t" x="851" y="2345">138,700</text>
</g>
<text class="ae" x="17" y="2379" textLength="188" lengthAdjust="spacingAndGlyphs">Altimetría etapa</text>
</svg>
</body></html>
